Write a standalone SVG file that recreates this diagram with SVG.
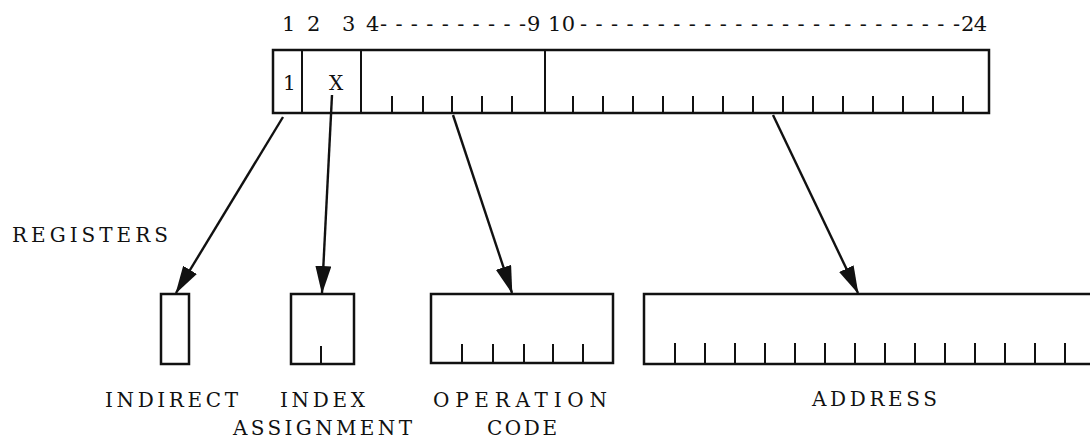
<svg xmlns="http://www.w3.org/2000/svg" width="1090" height="438" viewBox="0 0 1090 438">
<style>
.box{fill:none;stroke:#111;stroke-width:2.5}
.tk{stroke:#111;stroke-width:2}
.lbl{font-family:"DejaVu Serif","Liberation Serif",serif;font-size:20px;fill:#111}
.num{font-family:"DejaVu Serif","Liberation Serif",serif;font-size:21px;fill:#111}
.conn{stroke:#111;stroke-width:2.4;fill:none;marker-end:url(#ah)}
</style>
<defs>
<marker id="ah" viewBox="0 0 28 16" refX="27" refY="8" markerWidth="28" markerHeight="16" markerUnits="userSpaceOnUse" orient="auto">
<path d="M0,0 L28,8 L0,16 Z" fill="#111"/>
</marker>
</defs>
<rect width="1090" height="438" fill="#fff"/>
<g id="word">
<rect class="box" x="273" y="50" width="716" height="63"/>
<line class="tk" x1="302" y1="50" x2="302" y2="113"/>
<line class="tk" x1="361" y1="50" x2="361" y2="113"/>
<line class="tk" x1="545" y1="50" x2="545" y2="113"/>
<path class="tk" d="M392,96V113M423,96V113M452,96V113M482,96V113M512,96V113"/>
<path class="tk" d="M573,96V113M603,96V113M633,96V113M663,96V113M693,96V113M723,96V113M753,96V113M783,96V113M813,96V113M843,96V113M873,96V113M903,96V113M933,96V113M963,96V113"/>
<text class="lbl" x="283" y="90" font-size="17">1</text>
<text class="lbl" x="336" y="90" text-anchor="middle">X</text>
<text class="num" x="282" y="31">1</text>
<text class="num" x="307" y="31">2</text>
<text class="num" x="342" y="31">3</text>
<text class="num" x="366" y="31">4</text>
<text class="num" x="380" y="31" textLength="146" lengthAdjust="spacing">----------</text>
<text class="num" x="527" y="31">9</text>
<text class="num" x="548" y="31" textLength="27" lengthAdjust="spacing">10</text>
<text class="num" x="580" y="31" textLength="380" lengthAdjust="spacing">-------------------------</text>
<text class="num" x="961" y="31" textLength="26" lengthAdjust="spacing">24</text>
</g>
<g id="registers-label">
<text class="lbl" x="12" y="242" textLength="156" lengthAdjust="spacing">REGISTERS</text>
</g>
<g id="indirect">
<rect class="box" x="161" y="294" width="28" height="70"/>
<text class="lbl" x="105" y="407" textLength="133" lengthAdjust="spacing">INDIRECT</text>
</g>
<g id="index">
<rect class="box" x="291" y="294" width="63" height="70"/>
<line class="tk" x1="321" y1="346" x2="321" y2="364"/>
<text class="lbl" x="280" y="407" textLength="85" lengthAdjust="spacing">INDEX</text>
<text class="lbl" x="233" y="435" textLength="179" lengthAdjust="spacing">ASSIGNMENT</text>
</g>
<g id="opcode">
<rect class="box" x="431" y="294" width="182" height="69"/>
<path class="tk" d="M462,344V363M493,344V363M524,344V363M553,344V363M583,344V363"/>
<text class="lbl" x="433" y="407" textLength="174" lengthAdjust="spacing">OPERATION</text>
<text class="lbl" x="487" y="435" textLength="70" lengthAdjust="spacing">CODE</text>
</g>
<g id="address">
<rect class="box" x="644" y="294" width="460" height="70"/>
<path class="tk" d="M675,343V364M705,343V364M735,343V364M765,343V364M795,343V364M825,343V364M855,343V364M885,343V364M915,343V364M945,343V364M975,343V364M1005,343V364M1035,343V364M1065,343V364"/>
<text class="lbl" x="812" y="406" textLength="125" lengthAdjust="spacing">ADDRESS</text>
</g>
<g id="connectors">
<line class="conn" x1="283" y1="117" x2="176" y2="293"/>
<line class="conn" x1="332" y1="95" x2="322" y2="293"/>
<line class="conn" x1="453" y1="115" x2="512" y2="293"/>
<line class="conn" x1="773" y1="115" x2="858" y2="293"/>
</g>
</svg>
